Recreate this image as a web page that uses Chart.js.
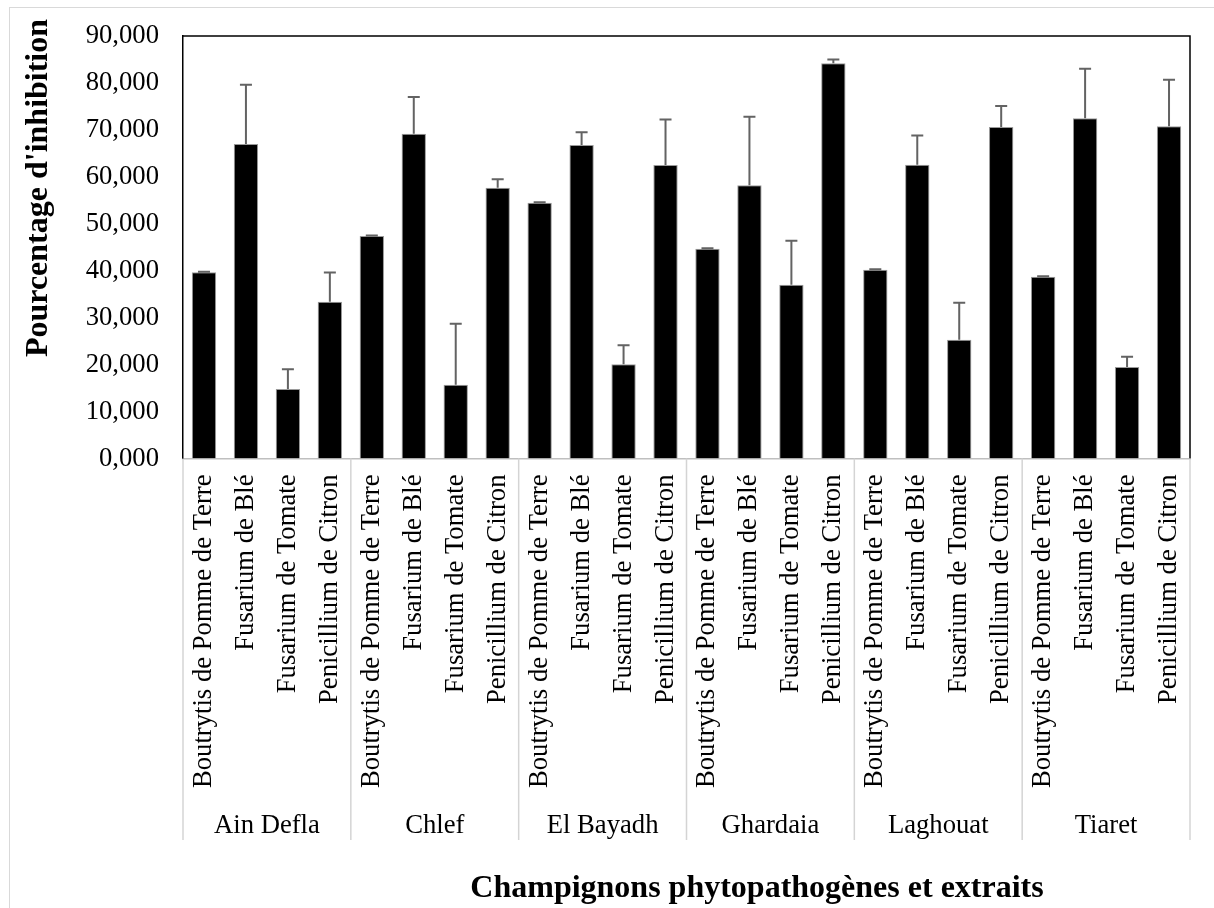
<!DOCTYPE html>
<html>
<head>
<meta charset="utf-8">
<script src="https://cdn.jsdelivr.net/npm/chart.js@4/dist/chart.umd.min.js"></script>
<style>
  html, body { margin:0; padding:0; background:#fff; }
  #wrap { width:1214px; height:908px; position:relative; }
</style>
</head>
<body>
<div id="wrap"><canvas id="chart" width="1214" height="908"></canvas></div>
<script>
// ===== DATA =====
const groups = ['Ain Defla', 'Chlef', 'El Bayadh', 'Ghardaia', 'Laghouat', 'Tiaret'];
const fungi = ['Boutrytis de Pomme de Terre', 'Fusarium de Blé', 'Fusarium de Tomate', 'Penicillium de Citron'];
// mean inhibition (%) per bar, group by group
const means = [39.7, 67.0, 14.8, 33.4,  47.4, 69.2, 15.7, 57.7,  54.5, 66.8, 20.1, 62.5,
               44.7, 58.2, 37.0, 84.2,  40.2, 62.6, 25.3, 70.6,  38.7, 72.5, 19.5, 70.8];
// upper error (standard deviation)
const errors = [0.1, 12.6, 4.2, 6.2,  0.1, 7.8, 13.0, 1.8,  0.1, 2.7, 4.0, 9.7,
                0.1, 14.6, 9.4, 0.8,  0.1, 6.2, 7.9, 4.5,  0.1, 10.5, 2.2, 9.9];
const yTicks = {min: 0, max: 90, step: 10};
const yTitle = "Pourcentage d'inhibition";
const xTitle = 'Champignons phytopathogènes et extraits';

const labels = [];
groups.forEach(g => fungi.forEach(f => labels.push(f)));

const SERIF = '"Liberation Serif", "Times New Roman", serif';
const fmtTick = v => v.toFixed(3).replace('.', ',');

// ===== PLUGINS =====
const frame = {
  id: 'frame',
  beforeDraw(chart) {
    const ctx = chart.ctx;
    ctx.save();
    ctx.strokeStyle = '#d9d9d9';
    ctx.lineWidth = 1;
    ctx.strokeRect(9.5, 7.5, 1400, 1100);
    ctx.restore();
  },
  afterDraw(chart) {
    const {ctx, chartArea: a} = chart;
    ctx.save();
    ctx.strokeStyle = '#000';
    ctx.lineWidth = 1.5;
    ctx.beginPath();
    ctx.moveTo(a.left, a.top); ctx.lineTo(a.right, a.top); ctx.lineTo(a.right, a.bottom);
    ctx.stroke();

    // group separators + group labels
    const gw = (a.right - a.left) / groups.length;
    ctx.strokeStyle = '#d4d4d4';
    ctx.lineWidth = 1.5;
    for (let k = 0; k <= groups.length; k++) {
      const x = a.left + k * gw;
      ctx.beginPath(); ctx.moveTo(x, a.bottom); ctx.lineTo(x, 840); ctx.stroke();
    }
    ctx.fillStyle = '#000';
    ctx.font = '26.67px ' + SERIF;
    ctx.textAlign = 'center';
    ctx.textBaseline = 'alphabetic';
    groups.forEach((g, k) => ctx.fillText(g, a.left + (k + 0.5) * gw, 833));

    // axis titles
    ctx.font = 'bold 32px ' + SERIF;
    ctx.fillText(xTitle, 757, 897);
    ctx.translate(47, 188);
    ctx.rotate(-Math.PI / 2);
    ctx.fillText(yTitle, 0, 0);
    ctx.restore();
  }
};

const errorBars = {
  id: 'errorBars',
  afterDatasetsDraw(chart) {
    const {ctx} = chart;
    const y = chart.scales.y;
    const meta = chart.getDatasetMeta(0);
    ctx.save();
    ctx.strokeStyle = '#636363';
    ctx.lineWidth = 2;
    meta.data.forEach((bar, i) => {
      const y0 = y.getPixelForValue(means[i]);
      const y1 = y.getPixelForValue(means[i] + errors[i]);
      ctx.beginPath();
      ctx.moveTo(bar.x, y0); ctx.lineTo(bar.x, y1);
      ctx.moveTo(bar.x - 6, y1); ctx.lineTo(bar.x + 6, y1);
      ctx.stroke();
    });
    ctx.restore();
  }
};

// ===== CHART =====
new Chart(document.getElementById('chart'), {
  type: 'bar',
  data: {
    labels,
    datasets: [{
      data: means,
      backgroundColor: '#000',
      borderColor: '#9a9a9a',
      borderWidth: 1,
      categoryPercentage: 1,
      barPercentage: 0.58
    }]
  },
  options: {
    responsive: false,
    animation: false,
    layout: {padding: {top: 36, right: 24, left: 0, bottom: 0}},
    plugins: {legend: {display: false}, tooltip: {enabled: false}},
    scales: {
      x: {
        grid: {display: false, drawTicks: false},
        border: {display: true, color: '#bfbfbf', width: 1.5},
        ticks: {
          autoSkip: false, minRotation: 90, maxRotation: 90, padding: 16,
          color: '#000', font: {family: SERIF, size: 26.67}
        },
        afterFit(s) { s.height = 908 - 458.5; s.paddingLeft = 0; s.paddingRight = 0; }
      },
      y: {
        min: yTicks.min, max: yTicks.max,
        grid: {display: false, drawTicks: false},
        border: {display: true, color: '#000', width: 1.5},
        ticks: {
          stepSize: yTicks.step, padding: 24, color: '#000',
          font: {family: SERIF, size: 26.67},
          callback: v => fmtTick(v)
        },
        afterFit(s) { s.width = 183; s.paddingTop = 0; s.paddingBottom = 0; }
      }
    }
  },
  plugins: [frame, errorBars]
});
</script>
</body>
</html>
